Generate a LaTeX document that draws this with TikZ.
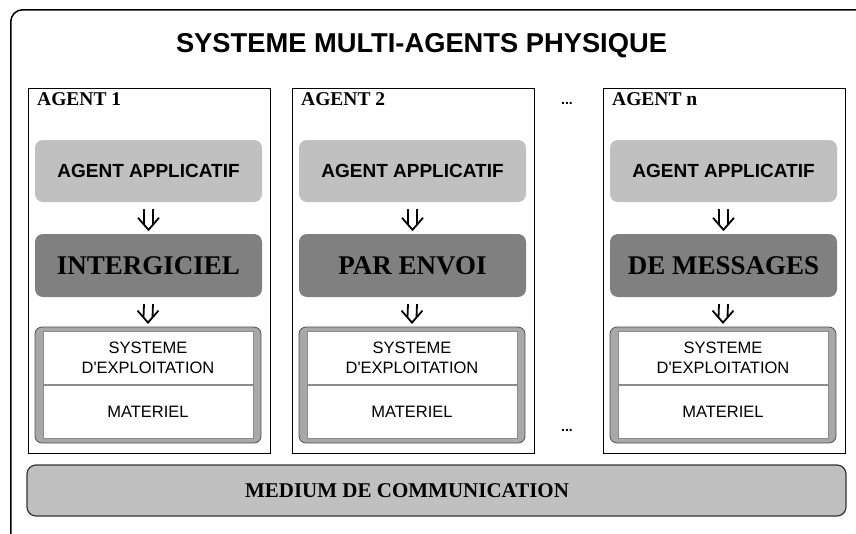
\documentclass[tikz,border=0pt]{standalone}
\usepackage{fontspec}
\usetikzlibrary{calc}
\newfontfamily\lsans{Liberation Sans}
\newfontfamily\lserif{Liberation Serif}
\definecolor{lgray}{HTML}{C0C0C0}
\definecolor{dgray}{HTML}{808080}
\definecolor{bandgray}{HTML}{A8A8A8}
\definecolor{bandline}{HTML}{505050}
\definecolor{innerline}{HTML}{8C8C8C}
\tikzset{
  frame/.style={draw=black, line width=1.5pt, rounded corners=12pt, minimum width=900pt, minimum height=560pt, anchor=north west, inner sep=0pt},
  agentbox/.style={draw=black, line width=1.4pt, fill=white, minimum width=242pt, minimum height=365pt, anchor=north west, inner sep=0pt},
  agentlbl/.style={font=\lserif\bfseries\fontsize{19.5}{22}\selectfont, anchor=north west, inner sep=0pt},
  aabox/.style={fill=lgray, rounded corners=8pt, minimum width=227pt, minimum height=62pt, inner sep=0pt, font=\lsans\bfseries\fontsize{19}{22}\selectfont},
  mwbox/.style={fill=dgray, rounded corners=8pt, minimum width=227pt, minimum height=63pt, inner sep=0pt, font=\lserif\bfseries\fontsize{27}{30}\selectfont},
  osband/.style={fill=bandgray, draw=bandline, line width=0.8pt, rounded corners=7pt, minimum width=226pt, minimum height=116pt, inner sep=0pt},
  osinner/.style={fill=white, draw=innerline, line width=0.8pt, minimum width=210pt, minimum height=53pt, inner sep=0pt, align=center, font=\lsans\fontsize{16.5}{20}\selectfont},
  medbox/.style={fill=lgray, draw=black!80, line width=1.2pt, rounded corners=9pt, minimum width=819pt, minimum height=51pt, inner sep=0pt},
  medtext/.style={font=\lserif\bfseries\fontsize{21}{24}\selectfont, inner sep=0pt},
  titletext/.style={font=\lsans\bfseries\fontsize{27.3}{30}\selectfont, inner sep=0pt},
  dots/.style={font=\lsans\bfseries\fontsize{14}{16}\selectfont, inner sep=0pt},
  harr/.style={draw=black, line width=1.8pt, line join=miter}
}
\newcommand\harrow[2]{%
  \draw[harr] ($(#1.south)+(-4.5,7)$) -- ($(#2.north)+(-4.5,-9.5)$);
  \draw[harr] ($(#1.south)+(4.5,7)$) -- ($(#2.north)+(4.5,-9.5)$);
  \draw[harr] ($(#2.north)+(-10.5,-16)$) -- ($(#2.north)+(0,-4)$) -- ($(#2.north)+(10.5,-16)$);
}
\begin{document}
\begin{tikzpicture}[x=1pt,y=-1pt]
\useasboundingbox (0,0) rectangle (856,533);
\clip (0,0) rectangle (856,533);
\fill[white] (0,0) rectangle (856,533);
\node[frame] (outer) at (10,9) {};
\node[titletext] (title) at (421.5,46) {SYSTEME MULTI-AGENTS PHYSIQUE};
\foreach \i/\dx/\lab/\mid in {1/0/AGENT 1/INTERGICIEL, 2/264/AGENT 2/PAR ENVOI, n/575/AGENT n/DE MESSAGES}{
  \node[agentbox] (ag\i) at (28+\dx,88) {};
  \node[agentlbl] (lab\i) at (37+\dx,92) {\lab};
  \node[aabox] (aa\i) at (148.5+\dx,171) {AGENT APPLICATIF};
  \node[mwbox] (mw\i) at (148.5+\dx,265.5) {\mid};
  \node[osband] (os\i) at (148+\dx,385) {};
  \node[osinner, anchor=south] (sys\i) at (148+\dx,385) {SYSTEME\\D'EXPLOITATION};
  \node[osinner, anchor=north] (mat\i) at (148+\dx,385) {MATERIEL};
  \harrow{aa\i}{mw\i}
  \harrow{mw\i}{os\i}
}
\node[dots] (dtop) at (567,103) {...};
\node[dots] (dbot) at (567,430) {...};
\node[medbox] (med) at (436.5,490.5) {};
\node[medtext] (medlbl) at (407,491) {MEDIUM DE COMMUNICATION};
\end{tikzpicture}
\end{document}
